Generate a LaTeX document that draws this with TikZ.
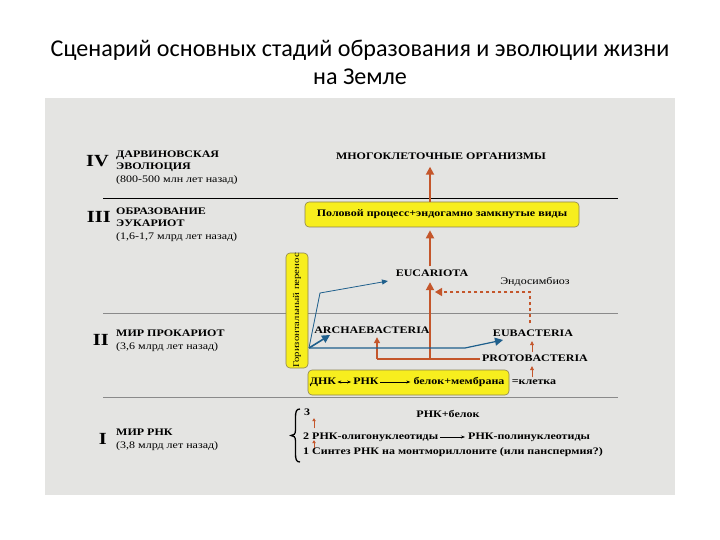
\documentclass[tikz,border=0pt]{standalone}
\usepackage{fontspec}
\setmainfont{Liberation Serif}
\newfontfamily\titlefont{Carlito}
\newfontfamily\wfont[FakeStretch=1.2]{Liberation Serif}
\usetikzlibrary{arrows.meta}
\definecolor{panel}{HTML}{E4E4E2}
\definecolor{rust}{HTML}{C4562B}
\definecolor{blu}{HTML}{1E5F8C}
\definecolor{yel}{HTML}{F7EE1E}
\definecolor{ybord}{HTML}{8C8350}
\definecolor{sepgray}{HTML}{8A8A8A}
\tikzset{
  txt/.style={inner sep=0pt, text height=7pt, text depth=2pt, font=\wfont\bfseries\fontsize{10}{11}\selectfont},
  stxt/.style={inner sep=0pt, text height=7pt, text depth=2pt, font=\wfont\fontsize{10}{11}\selectfont},
  roman/.style={inner sep=0pt, font=\wfont\bfseries\fontsize{17}{17}\selectfont},
  ybox/.style={draw=ybord, fill=yel, rounded corners=4pt, line width=0.6pt, inner sep=0pt},
  rustarrow/.style={draw=rust, line width=1.8pt, -{Triangle[length=8pt,width=8pt]}},
  rustline/.style={draw=rust, line width=1.8pt},
  rustthin/.style={draw=rust, line width=1.2pt, -{Triangle[length=6pt,width=6pt]}},
  rustsmall/.style={draw=rust, line width=0.7pt, -{Triangle[length=4pt,width=4pt]}},
  rusttiny/.style={draw=rust, line width=0.6pt, -{Triangle[length=3pt,width=3.5pt]}},
  rustdash/.style={draw=rust, line width=1.2pt, dashed, -{Triangle[length=7pt,width=8pt]}},
  bluarrow/.style={draw=blu, line width=1.6pt, -{Triangle[length=8pt,width=8pt]}},
  blutip/.style={draw=blu, line width=1.2pt, -{Triangle[length=8pt,width=8pt]}},
  bluthin/.style={draw=blu, line width=0.8pt, -{Triangle[length=6pt,width=5pt]}},
  blkarrow/.style={draw=black, line width=0.6pt, -{Stealth[length=4pt,width=3pt]}},
  blkdouble/.style={draw=black, line width=0.6pt, {Stealth[length=4pt,width=3pt]}-{Stealth[length=4pt,width=3pt]}},
}
\begin{document}
\begin{tikzpicture}[x=1pt,y=-1pt]
\useasboundingbox (0,0) rectangle (720,540);
\fill[white] (0,0) rectangle (720,540);
\fill[panel] (45,98) rectangle (675,495);

% title
\node[inner sep=0pt, font=\titlefont\fontsize{24.1}{27}\selectfont] (title1) at (360,50) {Сценарий основных стадий образования и эволюции жизни};
\node[inner sep=0pt, font=\titlefont\fontsize{24.1}{27}\selectfont] (title2) at (360,77) {на Земле};

% separators
\draw[black, line width=0.9pt] (103,198) -- (618,198);
\draw[sepgray, line width=0.8pt] (103,313) -- (618,313);
\draw[sepgray, line width=0.8pt] (103,397) -- (618,397);

% stage labels
\node[roman, anchor=east] (r4) at (109,161) {IV};
\node[txt, anchor=west] (s4a) at (116,155) {ДАРВИНОВСКАЯ};
\node[txt, anchor=west] (s4b) at (116,167) {ЭВОЛЮЦИЯ};
\node[stxt, anchor=west] (s4c) at (116,180) {(800-500 млн лет назад)};

\node[roman, anchor=east] (r3) at (111,217) {III};
\node[txt, anchor=west] (s3a) at (116,212) {ОБРАЗОВАНИЕ};
\node[txt, anchor=west] (s3b) at (116,224) {ЭУКАРИОТ};
\node[stxt, anchor=west] (s3c) at (116,237) {(1,6-1,7 млрд лет назад)};

\node[roman, anchor=east] (r2) at (109,340) {II};
\node[txt, anchor=west] (s2a) at (116,334) {МИР ПРОКАРИОТ};
\node[stxt, anchor=west] (s2b) at (116,347) {(3,6 млрд лет назад)};

\node[roman, anchor=east] (r1) at (107,439) {I};
\node[txt, anchor=west] (s1a) at (116,433) {МИР РНК};
\node[stxt, anchor=west] (s1b) at (116,446) {(3,8 млрд лет назад)};

% level IV / III
\node[txt] (multi) at (441,157) {МНОГОКЛЕТОЧНЫЕ ОРГАНИЗМЫ};
\node[ybox, minimum width=274pt, minimum height=25pt, font=\wfont\bfseries\fontsize{10}{11}\selectfont] (sex) at (442,214.5) {Половой процесс+эндогамно замкнутые виды};
\coordinate (vx) at (430,0);
\draw[rustarrow] (sex.north -| vx) -- ([yshift=-5pt]multi.south -| vx);

% eukaryota
\node[txt] (eu) at (432,274) {EUCARIOTA};
\draw[rustarrow] ([yshift=3pt]eu.north -| vx) -- ([yshift=-3pt]sex.south -| vx);
\node[stxt] (endo) at (535,282) {Эндосимбиоз};

% prokaryota
\node[txt] (arch) at (372,331) {ARCHAEBACTERIA};
\node[txt] (eub) at (533,334) {EUBACTERIA};
\node[txt] (proto) at (535,359) {PROTOBACTERIA};
\coordinate (pj) at (377,359);
\coordinate (pv) at (430,359);
\draw[rustline] ([xshift=-2pt]proto.west) -- (pj);
\draw[rustthin] (pj) -- ([yshift=-1.5pt]arch.south -| pj);
\draw[rustarrow] (pv) -- ([yshift=-3.5pt]eu.south -| pv);
\coordinate (dturn) at (530,292);
\coordinate (dend) at (435,292);
\draw[rustdash] ([yshift=6pt]eub.north -| dturn) -- (dturn) -- (dend);

% horizontal transfer box
\node[ybox, rotate=90, minimum width=115pt, minimum height=22pt, font=\wfont\fontsize{8.9}{10}\selectfont] (hbox) at (297,310.5) {Горизонтальный перенос};
\coordinate (hs) at (309,348);
\coordinate (atip) at (330,335);
\coordinate (bk) at (465,348);
\coordinate (etip) at (503,340);
\coordinate (ukn) at (320,293);
\coordinate (utip) at (388,281);
\draw[bluarrow] (hs) -- (atip);
\draw[blutip] (hs) -- (bk) -- (etip);
\draw[bluthin] (hs) -- (ukn) -- (utip);

% cell box
\node[ybox, minimum width=201pt, minimum height=25pt] (cell) at (408.5,382.5) {};
\node[txt] (dnk) at (323,382) {ДНК};
\node[txt] (rnk) at (366,382) {РНК};
\node[txt] (belok) at (459,382) {белок+мембрана};
\draw[blkdouble] ([xshift=1pt]dnk.east) -- ([xshift=-2pt]rnk.west);
\draw[blkarrow] ([xshift=1pt]rnk.east) -- ([xshift=-3pt]belok.west);
\node[txt] (kletka) at (534,382) {=клетка};
\coordinate (kx) at (532,0);
\draw[rustsmall] (kletka.north -| kx) -- ([yshift=-2.5pt]proto.south -| kx);
\draw[rustsmall] ([yshift=2pt]proto.north -| kx) -- ([yshift=-2.5pt]eub.south -| kx);

% level I
\draw[black, line width=1.3pt] (300,409) .. controls (296,409) and (295.5,412) .. (295.5,418) -- (295.5,430) .. controls (295.5,434) and (294,435.5) .. (291,435.5) .. controls (294,435.5) and (295.5,437) .. (295.5,441) -- (295.5,453) .. controls (295.5,459) and (296,462) .. (300,462);
\node[txt, anchor=west] (n3) at (304,413) {3};
\node[txt] (r3t) at (448,415) {РНК+белок};
\node[txt, anchor=west] (r2a) at (303,437) {2 РНК-олигонуклеотиды};
\node[txt, anchor=west] (r2b) at (468,437) {РНК-полинуклеотиды};
\node[txt, anchor=west] (r1t) at (303,452) {1 Синтез РНК на монтмориллоните (или панспермия?)};
\draw[blkarrow] ([xshift=2pt]r2a.east) -- ([xshift=-3pt]r2b.west);
\coordinate (ax) at (314,0);
\draw[rusttiny] ([yshift=4pt]r2a.north -| ax) -- ([yshift=-0.5pt]n3.south -| ax);
\draw[rusttiny] ([yshift=-0.5pt]r1t.north -| ax) -- ([yshift=1.5pt]r2a.south -| ax);
\end{tikzpicture}
\end{document}
